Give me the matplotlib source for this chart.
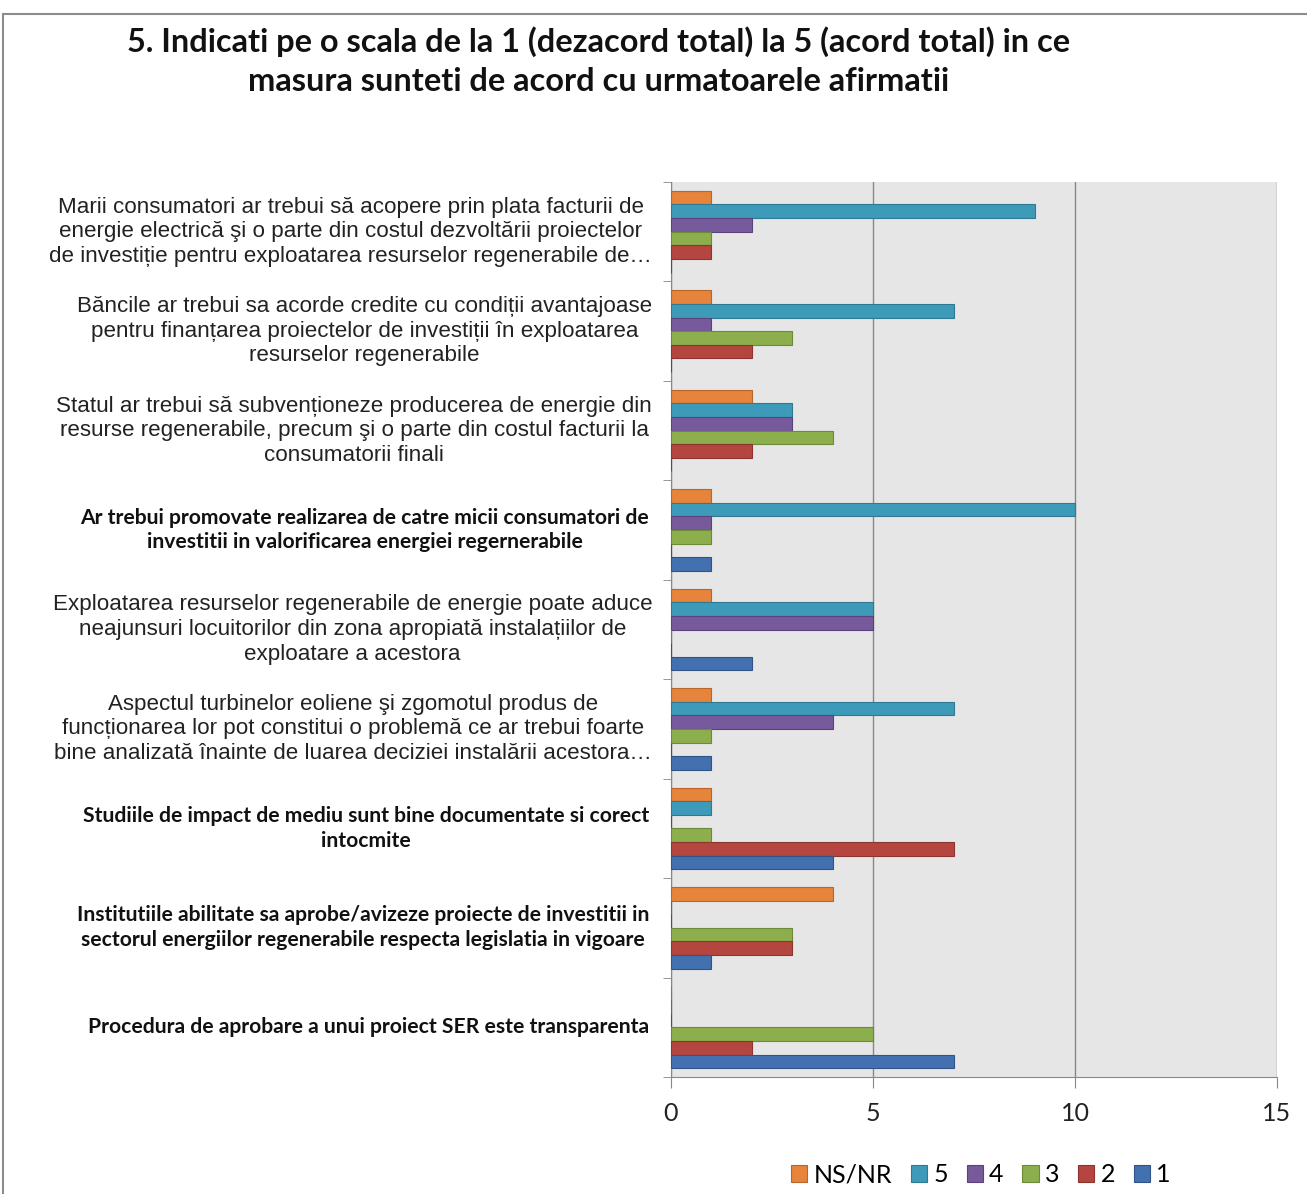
import numpy as np
import matplotlib.pyplot as plt
from matplotlib.patches import Rectangle
from matplotlib.transforms import blended_transform_factory

# date
afirmatii = [
    "Marii consumatori ar trebui să acopere prin plata facturii de\n"
    "energie electrică şi o parte din costul dezvoltării proiectelor\n"
    "de investiție pentru exploatarea resurselor regenerabile de…",
    "Băncile ar trebui sa acorde credite cu condiții avantajoase\n"
    "pentru finanțarea proiectelor de investiții în exploatarea\n"
    "resurselor regenerabile",
    "Statul ar trebui să subvenționeze producerea de energie din\n"
    "resurse regenerabile, precum şi o parte din costul facturii la\n"
    "consumatorii finali",
    "Ar trebui promovate realizarea de catre micii consumatori de\n"
    "investitii in valorificarea energiei regernerabile",
    "Exploatarea resurselor regenerabile de energie poate aduce\n"
    "neajunsuri locuitorilor din zona apropiată instalațiilor de\n"
    "exploatare a acestora",
    "Aspectul turbinelor eoliene şi zgomotul produs de\n"
    "funcționarea lor pot constitui o problemă ce ar trebui foarte\n"
    "bine analizată înainte de luarea deciziei instalării acestora…",
    "Studiile de impact de mediu sunt bine documentate si corect\n"
    "intocmite",
    "Institutiile abilitate sa aprobe/avizeze proiecte de investitii in\n"
    "sectorul energiilor regenerabile respecta legislatia in vigoare",
    "Procedura de aprobare a unui proiect SER este transparenta",
]
bold_labels = [False, False, False, True, False, False, True, True, True]

serii = ["NS/NR", "5", "4", "3", "2", "1"]
ns_nr = [1, 1, 2, 1, 1, 1, 1, 4, 0]
v5 = [9, 7, 3, 10, 5, 7, 1, 0, 0]
v4 = [2, 1, 3, 1, 5, 4, 0, 0, 0]
v3 = [1, 3, 4, 1, 0, 1, 1, 3, 5]
v2 = [1, 2, 2, 0, 0, 0, 7, 3, 2]
v1 = [0, 0, 0, 1, 2, 1, 4, 1, 7]
culori = ["#E5843A", "#3D9AB9", "#775A9C", "#8DAE4C", "#B4463F", "#4371B0"]
margini = ["#B8662A", "#2E7A93", "#5A437A", "#6C8A38", "#8C3430", "#2F5488"]

W, H = 1307, 1194
fig = plt.figure(figsize=(W / 100, H / 100), dpi=100)
fig.patch.set_facecolor("white")

# chenarul graficului
fig.add_artist(Rectangle((3 / W, -0.01), 1.2, (H - 14) / H + 0.01,
                         transform=fig.transFigure, fill=False,
                         edgecolor="#8C8C8C", linewidth=1.5))

ax = fig.add_axes([671 / W, 1 - 1077 / H, 606 / W, 895 / H])
ax.set_facecolor("#E6E6E6")

n = len(afirmatii)
y = np.arange(n)
h = 0.137
valori = [ns_nr, v5, v4, v3, v2, v1]
for j, (nume, vals) in enumerate(zip(serii, valori)):
    ax.barh(y + (j - 2.5) * h, vals, height=h, color=culori[j],
            edgecolor=margini[j], linewidth=0.8, label=nume, zorder=3)

ax.set_xlim(0, 15)
ax.set_ylim(n - 0.5, -0.5)
ax.set_xticks([0, 5, 10, 15])
ax.set_xticklabels(["0", "5", "10", "15"], fontsize=18, family="Lato",
                   color="#222222")
ax.tick_params(axis="x", length=8, color="#888888", pad=10)
ax.set_yticks([])
ax.set_yticks(np.arange(n + 1) - 0.5, minor=True)
ax.tick_params(axis="y", which="minor", length=6, color="#888888")
ax.grid(axis="x", color="#888888", linewidth=1.0, zorder=1)
for s in ["top", "right"]:
    ax.spines[s].set_visible(False)
for s in ["left", "bottom"]:
    ax.spines[s].set_color("#888888")

tr = blended_transform_factory(ax.transAxes, ax.transData)
for i, txt in enumerate(afirmatii):
    if bold_labels[i]:
        ax.text(-0.036, i, txt, transform=tr, ha="right", va="center",
                multialignment="center", fontsize=15.2, family="Lato",
                fontweight="bold", color="#111111", linespacing=1.3)
    else:
        ax.text(-0.031, i, txt, transform=tr, ha="right", va="center",
                multialignment="center", fontsize=16.1, family="Liberation Sans",
                color="#222222", linespacing=1.22)

fig.text(599 / W, 1 - 61 / H,
         "5. Indicati pe o scala de la 1 (dezacord total) la 5 (acord total) in ce\n"
         "masura sunteti de acord cu urmatoarele afirmatii",
         ha="center", va="center", fontsize=23.4, family="Lato",
         fontweight="bold", color="#111111", linespacing=1.42)

fig.legend(loc="center", bbox_to_anchor=(981 / W, 1 - 1175 / H), ncol=6,
           frameon=False, handlelength=0.65, handleheight=0.65,
           handletextpad=0.25, columnspacing=0.75,
           prop={"family": "Lato", "size": 18})

fig.savefig("out.png", dpi=100)
